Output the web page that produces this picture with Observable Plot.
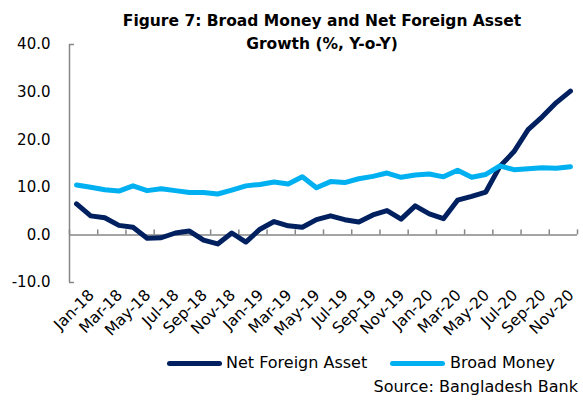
<!DOCTYPE html>
<html><head><meta charset="utf-8">
<script src="https://cdn.jsdelivr.net/npm/d3@7"></script>
<script src="https://cdn.jsdelivr.net/npm/@observablehq/plot@0.6"></script>
<style>
body{margin:0;background:#fff;font-family:"DejaVu Sans",sans-serif;color:#000;}
#wrap{position:relative;width:583px;height:400px;overflow:hidden;}
#title{position:absolute;left:72px;top:10px;width:500px;text-align:center;font-weight:bold;font-size:15.5px;line-height:23px;}
#legend{position:absolute;top:353px;left:0;width:583px;height:20px;font-size:16px;}
.item{position:absolute;top:0;height:20px;line-height:20px;white-space:nowrap;}
.swatch{position:absolute;top:8px;height:5px;border-radius:3px;}
#source{position:absolute;right:5px;top:377px;font-size:16px;white-space:nowrap;}
</style></head>
<body>
<div id="wrap">
  <div id="chart"></div>
  <div id="title">Figure 7: Broad Money and Net Foreign Asset<br>Growth (%, Y-o-Y)</div>
  <div id="legend"></div>
  <div id="source">Source: Bangladesh Bank</div>
</div>
<script>
const months = ["Jan-18","Feb-18","Mar-18","Apr-18","May-18","Jun-18","Jul-18","Aug-18","Sep-18","Oct-18","Nov-18","Dec-18",
"Jan-19","Feb-19","Mar-19","Apr-19","May-19","Jun-19","Jul-19","Aug-19","Sep-19","Oct-19","Nov-19","Dec-19",
"Jan-20","Feb-20","Mar-20","Apr-20","May-20","Jun-20","Jul-20","Aug-20","Sep-20","Oct-20","Nov-20","Dec-20"];
const netForeignAsset = [6.5, 4.0, 3.6, 2.0, 1.6, -0.7, -0.6, 0.4, 0.8, -1.1, -1.9, 0.4,
  -1.5, 1.2, 2.8, 1.9, 1.6, 3.2, 4.0, 3.2, 2.7, 4.2, 5.1, 3.3,
  6.1, 4.4, 3.4, 7.3, 8.1, 9.0, 14.4, 17.5, 22.1, 24.8, 27.8, 30.2];
const broadMoney = [10.5, 10.0, 9.5, 9.2, 10.3, 9.3, 9.7, 9.3, 8.9, 8.9, 8.6, 9.4,
  10.3, 10.6, 11.1, 10.7, 12.2, 9.9, 11.2, 11.0, 11.8, 12.3, 13.0, 12.1,
  12.6, 12.8, 12.2, 13.6, 12.1, 12.7, 14.5, 13.7, 13.9, 14.1, 14.0, 14.3];
const yTicks = [-10, 0, 10, 20, 30, 40];
const seriesNames = ["Net Foreign Asset", "Broad Money"];
const seriesColors = ["#002060", "#00B0F0"];

const axisGray = "#868686";
const idx = months.map((m, i) => i);
const boundaries = d3.range(-0.5, months.length + 0.5, 2);

const chart = Plot.plot({
  width: 583, height: 400,
  marginTop: 44, marginBottom: 118, marginLeft: 69, marginRight: 6,
  style: {fontFamily: "DejaVu Sans, sans-serif", color: "#000", background: "transparent"},
  x: {type: "linear", domain: [-0.5, months.length - 0.5], axis: null},
  y: {domain: [-10, 40], axis: null},
  marks: [
    Plot.axisY({ticks: yTicks, tickSize: 0, tickPadding: 19, tickFormat: d => d.toFixed(1), fontSize: 15, anchor: "left"}),
    Plot.ruleX([-0.5], {stroke: axisGray, strokeWidth: 1.5}),
    Plot.ruleY([yTicks[0], yTicks[yTicks.length - 1]], {x1: -0.5, x2: -0.15, stroke: axisGray, strokeWidth: 1.5}),
    Plot.ruleY([0], {stroke: axisGray, strokeWidth: 1.5}),
    Plot.ruleX(boundaries, {y1: 0, y2: 0, insetTop: -5, stroke: axisGray, strokeWidth: 1.5}),
    Plot.axisX({ticks: d3.range(0, months.length, 2), tickFormat: i => months[i], tickRotate: -45, tickSize: 0, tickPadding: 6, fontSize: 15.5, anchor: "bottom", dx: 15, dy: 4}),
    Plot.lineY(netForeignAsset, {x: (d, i) => idx[i], y: d => d, stroke: seriesColors[0], strokeWidth: 5, strokeLinecap: "round", strokeLinejoin: "round"}),
    Plot.lineY(broadMoney, {x: (d, i) => idx[i], y: d => d, stroke: seriesColors[1], strokeWidth: 5, strokeLinecap: "round", strokeLinejoin: "round"})
  ]
});
document.getElementById("chart").appendChild(chart);

const legend = document.getElementById("legend");
const legendPos = [{sw: 167, tx: 226}, {sw: 390, tx: 450}];
seriesNames.forEach((name, k) => {
  const s = document.createElement("div");
  s.className = "swatch";
  s.style.left = legendPos[k].sw + "px";
  s.style.width = "55px";
  s.style.background = seriesColors[k];
  legend.appendChild(s);
  const t = document.createElement("div");
  t.className = "item";
  t.style.left = legendPos[k].tx + "px";
  t.textContent = name;
  legend.appendChild(t);
});
</script>
</body></html>
